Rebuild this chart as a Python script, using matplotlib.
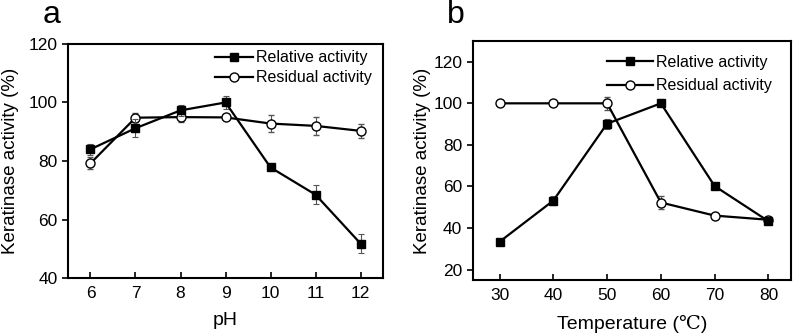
#Keratinase activity vs pH and temperature
import matplotlib.pyplot as plt
import numpy as np

plt.rcParams['font.family'] = ['Liberation Sans', 'DejaVu Sans']

#Panel a data
ph = [6, 7, 8, 9, 10, 11, 12]
ph_relative = [84, 91.2, 97.3, 100, 77.8, 68.5, 51.8]
ph_relative_err = [1.9, 3, 2, 2.3, 1, 3.2, 3.2]
ph_residual = [79.2, 94.8, 95, 94.9, 92.8, 92, 90.3]
ph_residual_err = [2, 1.5, 1.5, 1, 2.8, 3.2, 2.3]

#Panel b data
temp = [30, 40, 50, 60, 70, 80]
temp_relative = [33.4, 53.2, 90.2, 100, 60.2, 43.3]
temp_relative_err = [1, 2, 2.5, 0.5, 1, 1]
temp_residual = [100, 100, 100, 52.3, 46, 44]
temp_residual_err = [0, 0, 3, 3, 0.5, 0.5]

fig = plt.figure(figsize=(7.97, 3.33), dpi=100)

def draw_panel(ax, x, rel, rel_err, res, res_err, spacing, hlen, anchor):
    ax.errorbar(x, res, yerr=res_err, color='black', lw=1.6, marker='o', ms=6.5,
                mfc='white', mec='black', mew=1, ecolor='#555555', elinewidth=0.8,
                capsize=2.5, capthick=0.8, label='Residual activity', zorder=3)
    ax.errorbar(x, rel, yerr=rel_err, color='black', lw=1.6, marker='s', ms=6,
                mfc='black', mec='black', ecolor='#555555', elinewidth=0.8,
                capsize=2.5, capthick=0.8, label='Relative activity', zorder=4)
    for s in ax.spines.values():
        s.set_linewidth(1.5)
    ax.tick_params(axis='x', direction='in', length=4, width=1.2, labelsize=12.5, pad=6)
    ax.tick_params(axis='y', direction='out', length=4, width=1.2, labelsize=12.5)
    ax.set_ylabel('Keratinase activity (%)', fontsize=13.5)
    handles, labels = ax.get_legend_handles_labels()
    handles = [h[0] for h in handles[::-1]]
    ax.legend(handles, labels[::-1], loc='upper right', bbox_to_anchor=anchor,
              frameon=False, fontsize=11.5, numpoints=1, handlelength=hlen,
              handletextpad=0.2, labelspacing=spacing, borderaxespad=0)

#Panel a
ax1 = fig.add_axes([0.0853, 0.165, 0.3953, 0.703])
draw_panel(ax1, ph, ph_relative, ph_relative_err, ph_residual, ph_residual_err,
           0.3, 2.4, (0.985, 1.0))
ax1.set_xlim(5.5, 12.5)
ax1.set_ylim(40, 120)
ax1.set_yticks([40, 60, 80, 100, 120])
ax1.set_xticks(ph)
ax1.set_xlabel('pH', fontsize=14, labelpad=8)
ax1.yaxis.set_label_coords(-0.157, 0.5)
fig.text(0.054, 0.955, 'a', fontsize=23, va='center', ha='left')

#Panel b
ax2 = fig.add_axes([0.593, 0.159, 0.3995, 0.718])
draw_panel(ax2, temp, temp_relative, temp_relative_err, temp_residual, temp_residual_err,
           0.55, 2.9, (0.96, 0.97))
ax2.set_xlim(25, 84.2)
ax2.set_ylim(15, 130)
ax2.set_yticks([20, 40, 60, 80, 100, 120])
ax2.set_xticks(temp)
ax2.set_xlabel('Temperature (\u2103)', fontsize=14, labelpad=8,
               family=['Liberation Sans', 'DejaVu Serif'])
ax2.yaxis.set_label_coords(-0.131, 0.5)
fig.text(0.561, 0.955, 'b', fontsize=23, va='center', ha='left')

plt.savefig('out.png', dpi=100)
